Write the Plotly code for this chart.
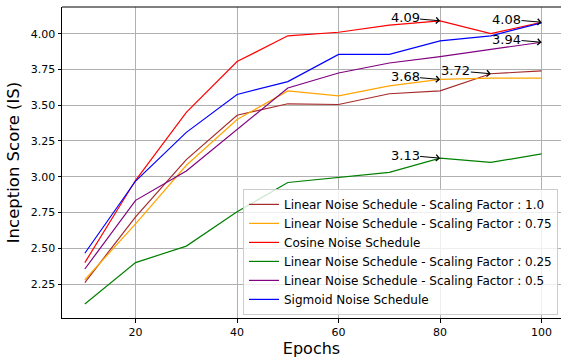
import plotly.graph_objects as go

epochs = [10, 20, 30, 40, 50, 60, 70, 80, 90, 100]

lin_1_0 = [2.26, 2.72, 3.12, 3.43, 3.51, 3.505, 3.58, 3.60, 3.72, 3.74]
lin_0_75 = [2.28, 2.67, 3.08, 3.40, 3.60, 3.565, 3.635, 3.68, 3.69, 3.69]
cosine = [2.40, 2.975, 3.45, 3.805, 3.985, 4.01, 4.06, 4.09, 4.00, 4.08]
lin_0_25 = [2.11, 2.40, 2.515, 2.755, 2.96, 2.995, 3.03, 3.13, 3.10, 3.16]
lin_0_5 = [2.355, 2.835, 3.04, 3.33, 3.62, 3.725, 3.795, 3.84, 3.89, 3.94]
sigmoid = [2.465, 2.97, 3.31, 3.575, 3.665, 3.855, 3.855, 3.95, 3.985, 4.075]

series = [
    ("Linear Noise Schedule - Scaling Factor : 1.0", lin_1_0, "#a52a2a"),
    ("Linear Noise Schedule - Scaling Factor : 0.75", lin_0_75, "#ffa500"),
    ("Cosine Noise Schedule", cosine, "#ff0000"),
    ("Linear Noise Schedule - Scaling Factor : 0.25", lin_0_25, "#008000"),
    ("Linear Noise Schedule - Scaling Factor : 0.5", lin_0_5, "#800080"),
    ("Sigmoid Noise Schedule", sigmoid, "#0000ff"),
]

# annotations: (epoch, value, label)
ann_points = [
    (80, 4.09, "4.09"),
    (100, 4.08, "4.08"),
    (100, 3.94, "3.94"),
    (80, 3.68, "3.68"),
    (90, 3.72, "3.72"),
    (80, 3.13, "3.13"),
]

FONT = "DejaVu Sans"

fig = go.Figure()
for name, vals, color in series:
    fig.add_trace(go.Scatter(x=epochs, y=vals, mode="lines", name=name,
                             line=dict(color=color, width=1.2)))

for xv, yv, lab in ann_points:
    fig.add_annotation(x=xv, y=yv, text=lab, showarrow=True, ax=-35, ay=-3,
                       arrowhead=4, arrowsize=1.2, arrowwidth=1, arrowcolor="black",
                       font=dict(family=FONT, size=13, color="black"),
                       standoff=0, borderpad=0)

fig.update_layout(
    width=561, height=360,
    margin=dict(l=62, r=0, t=7, b=42),
    paper_bgcolor="white", plot_bgcolor="white",
    font=dict(family=FONT, size=11, color="black"),
    showlegend=True,
    legend=dict(x=0.994, y=0.01, xanchor="right", yanchor="bottom",
                bgcolor="rgba(255,255,255,0.8)", bordercolor="#cccccc", borderwidth=1,
                font=dict(family=FONT, size=12, color="black")),
    xaxis=dict(range=[5.5, 103.83], tickmode="linear", tick0=0, dtick=20,
               showgrid=True, gridcolor="#b0b0b0", gridwidth=1,
               showline=True, linecolor="black", linewidth=1, mirror=False,
               ticks="outside", ticklen=3.5, tickcolor="black",
               tickfont=dict(family=FONT, size=11),
               title=dict(text="Epochs", font=dict(family=FONT, size=16), standoff=5),
               zeroline=False),
    yaxis=dict(range=[2.0125, 4.1865], tickmode="linear", tick0=2.25, dtick=0.25,
               tickformat=".2f",
               showgrid=True, gridcolor="#b0b0b0", gridwidth=1,
               showline=True, linecolor="black", linewidth=1, mirror=False,
               ticks="outside", ticklen=3.5, tickcolor="black",
               tickfont=dict(family=FONT, size=11),
               title=dict(text="Inception Score (IS)", font=dict(family=FONT, size=16.5), standoff=7),
               zeroline=False),
)
fig.add_shape(type="line", xref="paper", yref="paper", x0=0, x1=1, y0=1, y1=1,
              line=dict(color="black", width=1))

fig.write_html("out.html")
